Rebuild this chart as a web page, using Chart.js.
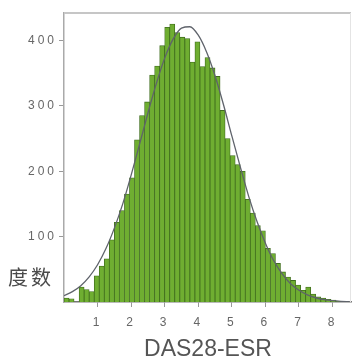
<!DOCTYPE html>
<html lang="zh-CN">
<head>
  <meta charset="UTF-8" />
  <title>DAS28-ESR 度数分布</title>
  <script src="https://cdn.jsdelivr.net/npm/chart.js@4"></script>
  <style>
    html, body { margin: 0; padding: 0; background: #fff; }
    .wrap { position: relative; width: 352px; height: 356px; }
    .wrap canvas { position: absolute; left: 0; top: 0; }
    .y-title {
      position: absolute; left: 8px; top: 267px;
      font: 20px "Noto Sans CJK SC", sans-serif; line-height: 1;
      color: #4a4a4a; letter-spacing: 3px;
    }
    .x-title {
      position: absolute; left: 64px; width: 288px; top: 335px;
      text-align: center; line-height: 1;
      font: 23px "Liberation Sans", Arial, sans-serif; color: #555;
    }
  </style>
</head>
<body>
  <div class="wrap">
    <canvas id="hist"></canvas>
    <div class="y-title">度数</div>
    <div class="x-title">DAS28-ESR</div>
  </div>

  <script>
    // histogram bins (width 0.15, starting at 0)
    const binWidth = 0.15;
    const counts = [6, 5, 0, 23, 19, 16, 40, 55, 66, 95,
                    122, 140, 165, 190, 248, 285, 306, 347, 361, 392,
                    420, 425, 412, 405, 403, 367, 398, 360, 374, 358,
                    345, 293, 250, 224, 210, 200, 157, 136, 117, 109,
                    82, 74, 59, 46, 38, 33, 26, 18, 23, 12,
                    8, 6, 4, 3, 1];

    // fitted normal curve, sampled every 0.25 from 0
    const curveStep = 0.25;
    const curveY = [9.6, 15.8, 25, 38.5, 57, 81.7, 113, 150, 194, 241,
                    289, 334, 373, 402, 419, 421, 408, 382, 346, 302,
                    254, 207, 162, 123, 90, 63, 43, 28, 18, 11,
                    6.5, 3.7, 2, 1, 0.5];

    const xTicks = [1, 2, 3, 4, 5, 6, 7, 8];
    const yTicks = [100, 200, 300, 400];

    const bars = counts.map((c, i) => ({ x: binWidth * (i + 0.5), y: c }));
    const curve = curveY.map((y, i) => ({ x: curveStep * i, y: y }));

    // top / right frame of the plot box
    const frame = {
      id: 'frame',
      afterDraw(chart) {
        const { ctx, chartArea: a } = chart;
        ctx.save();
        ctx.strokeStyle = '#c6c6c6';
        ctx.lineWidth = 2;
        ctx.beginPath();
        ctx.moveTo(a.left, a.top);
        ctx.lineTo(a.right, a.top);
        ctx.stroke();
        ctx.strokeStyle = '#e4e4e4';
        ctx.lineWidth = 1;
        ctx.beginPath();
        ctx.moveTo(a.right - 0.5, a.top);
        ctx.lineTo(a.right - 0.5, a.bottom);
        ctx.stroke();
        ctx.restore();
      }
    };

    // wide tick label spacing
    const spacing = {
      id: 'spacing',
      beforeDraw(chart) { chart.ctx.letterSpacing = '3px'; }
    };

    const tickFont = { family: 'Liberation Sans', size: 12 };

    new Chart(document.getElementById('hist'), {
      type: 'bar',
      data: {
        datasets: [
          {
            type: 'line',
            data: curve,
            borderColor: '#5f636b',
            borderWidth: 1.3,
            pointRadius: 0,
            cubicInterpolationMode: 'monotone',
            fill: false,
            order: 0
          },
          {
            type: 'bar',
            data: bars,
            backgroundColor: '#6fae31',
            borderColor: '#3f6c1d',
            borderWidth: 0.8,
            barPercentage: 1,
            categoryPercentage: 1,
            order: 1
          }
        ]
      },
      options: {
        responsive: true,
        maintainAspectRatio: false,
        animation: false,
        layout: { padding: { top: 13, right: 1, left: 0, bottom: 0 } },
        plugins: {
          legend: { display: false },
          tooltip: { enabled: false }
        },
        scales: {
          x: {
            type: 'linear',
            min: 0,
            max: 8.55,
            offset: false,
            afterBuildTicks: s => { s.ticks = xTicks.map(v => ({ value: v })); },
            afterFit: s => { s.height = 54; },
            grid: { drawOnChartArea: false, drawTicks: true, tickLength: 5, color: '#999', offset: false },
            border: { color: '#777', width: 1.5 },
            ticks: { color: '#666', font: tickFont, padding: 8, maxRotation: 0 }
          },
          y: {
            min: 0,
            max: 442,
            afterBuildTicks: s => { s.ticks = yTicks.map(v => ({ value: v })); },
            afterFit: s => { s.width = 64; },
            grid: { drawOnChartArea: false, drawTicks: true, tickLength: 5, color: '#999' },
            border: { color: '#aaa', width: 1.5 },
            ticks: { color: '#666', font: tickFont, padding: 2 }
          }
        }
      },
      plugins: [frame, spacing]
    });
  </script>
</body>
</html>
